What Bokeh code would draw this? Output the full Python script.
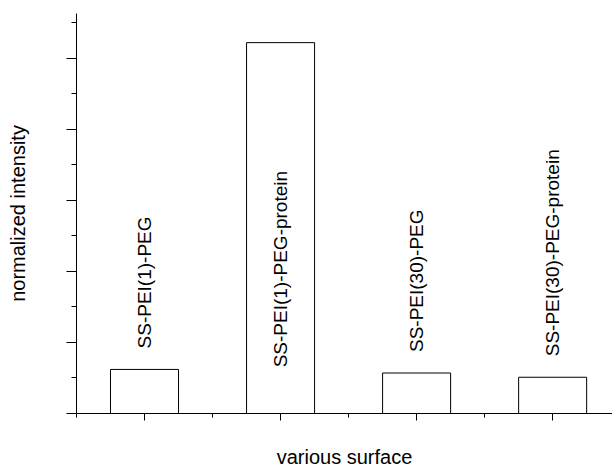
import math
from bokeh.plotting import figure
from bokeh.models import FixedTicker, Range1d, ColumnDataSource
from bokeh.core.properties import value
from bokeh.embed import file_html
from bokeh.resources import INLINE

categories = ["SS-PEI(1)-PEG", "SS-PEI(1)-PEG-protein", "SS-PEI(30)-PEG", "SS-PEI(30)-PEG-protein"]
positions = [1, 2, 3, 4]
intensity = [0.62, 5.22, 0.57, 0.51]
y_ticks = [0, 1, 2, 3, 4, 5]
y_minor = [0.5, 1.5, 2.5, 3.5, 4.5, 5.5]
x_minor = [0.5, 1.5, 2.5, 3.5, 4.5]

FONT = "Liberation Sans"

p = figure(width=612, height=470, output_backend="svg", toolbar_location=None,
           x_range=Range1d(0.5, 4.44), y_range=Range1d(0, 5.63),
           min_border_left=76, min_border_right=0, min_border_top=13, min_border_bottom=57)
p.xgrid.visible = False
p.ygrid.visible = False
p.outline_line_color = None
p.background_fill_color = "white"
p.border_fill_color = "white"

src = ColumnDataSource(dict(x=positions, top=intensity, label=categories))
p.vbar(x="x", top="top", bottom=0, width=0.5, source=src,
       fill_color="white", line_color="black", line_width=1)

# labels above short bars, inside the tall bar
short = [i for i, v in enumerate(intensity) if v < 1]
tall = [i for i, v in enumerate(intensity) if v >= 1]
p.text(x=[positions[i] for i in short], y=[intensity[i] for i in short],
       text=[categories[i] for i in short], angle=math.pi / 2,
       text_align="left", text_baseline="middle", y_offset=-21,
       text_font=value(FONT), text_font_size="19px", text_color="black")
inner_label_y = 0.65
p.text(x=[positions[i] for i in tall], y=[inner_label_y] * len(tall),
       text=[categories[i] for i in tall], angle=math.pi / 2,
       text_align="left", text_baseline="middle",
       text_font=value(FONT), text_font_size="19px", text_color="black")

for ax in (p.xaxis[0], p.yaxis[0]):
    ax.major_label_standoff = 0
    ax.major_tick_in = 0
    ax.minor_tick_in = 0
    ax.axis_line_color = "black"
    ax.major_tick_line_color = "black"
    ax.minor_tick_line_color = "black"
    ax.axis_label_text_font = FONT
    ax.axis_label_text_font_size = "20px"
    ax.axis_label_text_font_style = "normal"
    ax.axis_label_text_color = "black"

xa = p.xaxis[0]
xa.ticker = FixedTicker(ticks=positions, minor_ticks=x_minor)
xa.major_label_overrides = {t: "" for t in positions}
xa.major_tick_out = 7
xa.minor_tick_out = 4
xa.axis_label = "various surface"
xa.axis_label_standoff = 25

ya = p.yaxis[0]
ya.ticker = FixedTicker(ticks=y_ticks, minor_ticks=y_minor)
ya.major_label_overrides = {t: "" for t in y_ticks}
ya.major_tick_out = 10
ya.minor_tick_out = 5
ya.axis_label = "normalized intensity"
ya.axis_label_standoff = 38

open("out.html", "w").write(file_html(p, INLINE))
